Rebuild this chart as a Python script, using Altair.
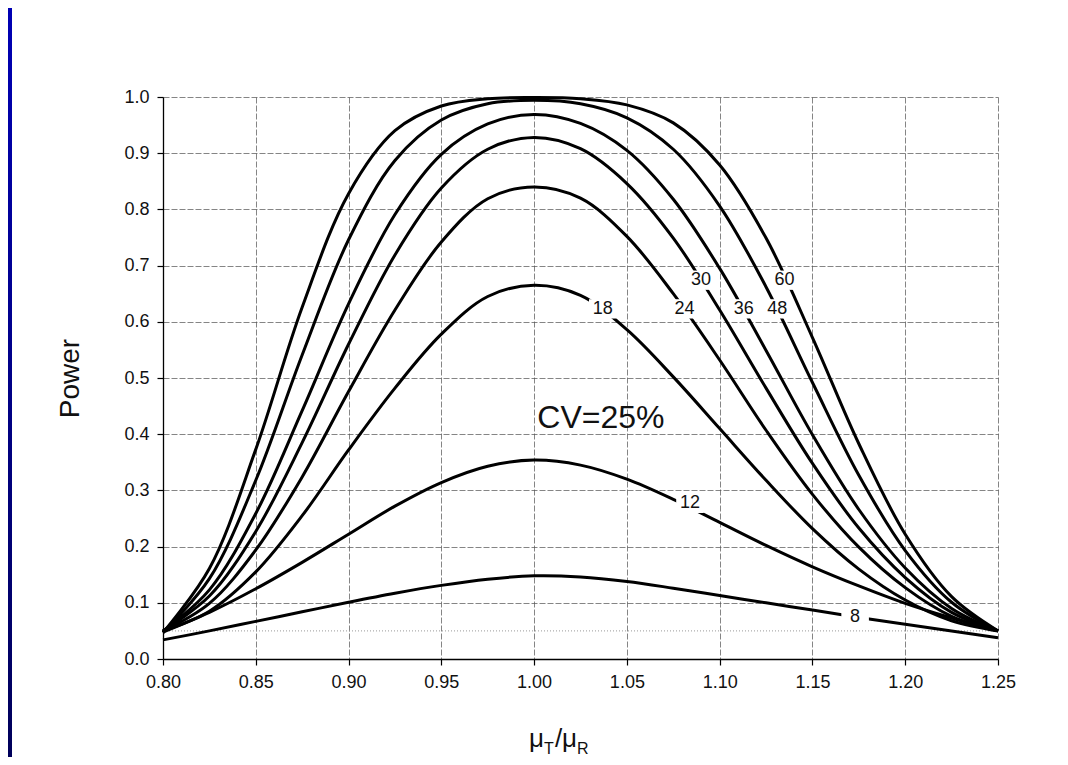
import altair as alt
import pandas as pd

# ---- data ----
ratio = [0.80, 0.825, 0.85, 0.875, 0.90, 0.925, 0.95, 0.975, 1.00,
         1.025, 1.05, 1.075, 1.10, 1.125, 1.15, 1.175, 1.20, 1.225, 1.25]

power_n8 = [0.034, 0.050, 0.067, 0.084, 0.101, 0.117, 0.131, 0.142, 0.148,
            0.146, 0.138, 0.126, 0.113, 0.100, 0.087, 0.074, 0.062, 0.050, 0.038]
power_n12 = [0.048, 0.083, 0.125, 0.172, 0.222, 0.272, 0.314, 0.343, 0.354,
             0.345, 0.320, 0.284, 0.243, 0.202, 0.164, 0.130, 0.099, 0.073, 0.050]
power_n18 = [0.050, 0.085, 0.155, 0.255, 0.372, 0.482, 0.578, 0.645, 0.665,
             0.647, 0.586, 0.502, 0.410, 0.318, 0.232, 0.160, 0.105, 0.068, 0.050]
power_n24 = [0.050, 0.099, 0.194, 0.324, 0.476, 0.621, 0.742, 0.819, 0.840,
             0.820, 0.752, 0.650, 0.532, 0.407, 0.293, 0.199, 0.127, 0.076, 0.050]
power_n30 = [0.050, 0.112, 0.227, 0.385, 0.560, 0.719, 0.838, 0.907, 0.928,
             0.908, 0.846, 0.749, 0.621, 0.482, 0.348, 0.233, 0.145, 0.083, 0.050]
power_n36 = [0.049, 0.123, 0.259, 0.442, 0.632, 0.791, 0.898, 0.952, 0.969,
             0.953, 0.905, 0.818, 0.695, 0.549, 0.399, 0.266, 0.162, 0.090, 0.050]
power_n48 = [0.047, 0.143, 0.318, 0.541, 0.746, 0.887, 0.959, 0.988, 0.994,
             0.988, 0.963, 0.907, 0.806, 0.662, 0.492, 0.327, 0.193, 0.101, 0.050]
power_n60 = [0.047, 0.161, 0.373, 0.626, 0.828, 0.940, 0.984, 0.997, 0.999,
             0.997, 0.986, 0.954, 0.879, 0.749, 0.572, 0.383, 0.222, 0.111, 0.050]

sample_sizes = [8, 12, 18, 24, 30, 36, 48, 60]
series = [power_n8, power_n12, power_n18, power_n24,
          power_n30, power_n36, power_n48, power_n60]

label_text = ["60", "48", "36", "30", "24", "18", "12", "8"]
label_x = [1.135, 1.131, 1.113, 1.090, 1.081, 1.037, 1.084, 1.173]
label_y = [0.674, 0.623, 0.623, 0.674, 0.623, 0.623, 0.277, 0.074]

x_ticks = [0.80, 0.85, 0.90, 0.95, 1.00, 1.05, 1.10, 1.15, 1.20, 1.25]
y_ticks = [0.0, 0.1, 0.2, 0.3, 0.4, 0.5, 0.6, 0.7, 0.8, 0.9, 1.0]
alpha_level = [0.05]
cv_text = ["CV=25%"]
cv_x = [1.036]
cv_y = [0.429]

# ---- tables ----
rows = []
for n, vals in zip(sample_sizes, series):
    for r, p in zip(ratio, vals):
        rows.append({"ratio": r, "power": p, "n": n})
curves = pd.DataFrame(rows)
labels = pd.DataFrame({"text": label_text, "ratio": label_x, "power": label_y})
alpha_df = pd.DataFrame({"power": alpha_level})
cv_df = pd.DataFrame({"text": cv_text, "ratio": cv_x, "power": cv_y})

FONT = "Liberation Sans, Arial, Helvetica, sans-serif"

xscale = alt.Scale(domain=[0.80, 1.25], nice=False, zero=False)
yscale = alt.Scale(domain=[0.0, 1.0], nice=False, zero=False)

base_x = alt.X("ratio:Q", scale=xscale,
               axis=alt.Axis(values=x_ticks, format=".2f", title="",
                             labelPadding=8, labelFlush=False))
base_y = alt.Y("power:Q", scale=yscale,
               axis=alt.Axis(values=y_ticks, format=".1f", title="Power",
                             labelPadding=8, labelFlush=False,
                             titleX=-93, titleY=281, titleAngle=270,
                             titleBaseline="middle", titleAlign="center",
                             titleFontSize=28, titleFont=FONT,
                             titleFontWeight="normal", titleColor="#111"))

alpha_rule = alt.Chart(alpha_df).mark_rule(
    color="#999", strokeDash=[1, 2], strokeWidth=1
).encode(y=alt.Y("power:Q", scale=yscale))

lines = alt.Chart(curves).mark_line(
    color="black", strokeWidth=3, interpolate="catmull-rom"
).encode(x=base_x, y=base_y, detail="n:N")

label_bg = alt.Chart(labels).mark_point(
    shape="M-1,-0.7L1,-0.7L1,0.7L-1,0.7Z", filled=True, fill="white",
    opacity=1, strokeWidth=0, size=760
).encode(x=alt.X("ratio:Q", scale=xscale), y=alt.Y("power:Q", scale=yscale))

label_txt = alt.Chart(labels).mark_text(
    font=FONT, fontSize=18, color="#111", align="center", baseline="middle"
).encode(x=alt.X("ratio:Q", scale=xscale), y=alt.Y("power:Q", scale=yscale),
         text="text:N")

cv_txt = alt.Chart(cv_df).mark_text(
    font=FONT, fontSize=32, color="#111", align="center", baseline="middle"
).encode(x=alt.X("ratio:Q", scale=xscale), y=alt.Y("power:Q", scale=yscale),
         text="text:N")

# x-axis title: mu_T / mu_R with subscripts
anchor = pd.DataFrame({"k": [0]})
def piece(txt, px, py, size):
    return alt.Chart(anchor).mark_text(
        text=txt, font=FONT, fontSize=size, color="#111",
        align="left", baseline="alphabetic"
    ).encode(x=alt.value(px), y=alt.value(py))

xt = (piece("\u03bc", 366, 650, 26) + piece("T", 381, 657, 16) +
      piece("/", 392, 650, 26) + piece("\u03bc", 399, 650, 26) +
      piece("R", 414, 657, 16))

# thin blue frame strip on the left edge
blue = alt.Chart(anchor).mark_rect(
    color=alt.LinearGradient(gradient="linear",
                             stops=[alt.GradientStop(color="#0000B4", offset=0),
                                    alt.GradientStop(color="#00005A", offset=1)],
                             x1=0, x2=0, y1=0, y2=1)
).encode(x=alt.value(-155), x2=alt.value(-151), y=alt.value(-89), y2=alt.value(660))

chart = alt.layer(
    alpha_rule, lines, label_bg, label_txt, cv_txt, xt, blue
).properties(
    width=835, height=562,
    autosize=alt.AutoSizeParams(type="none"),
    padding={"left": 155, "top": 89, "right": 50, "bottom": 98},
    background="white"
).configure_view(
    strokeWidth=0
).configure_axis(
    domainColor="black", domainWidth=1.3,
    tickColor="black", tickSize=6, tickWidth=1.2,
    gridColor="#555", gridWidth=0.8, gridDash=[6, 2], gridOpacity=0.9,
    labelFont=FONT, labelFontSize=18, labelColor="#111"
)

chart.save("out.html", embed_options={"renderer": "svg", "actions": False})
